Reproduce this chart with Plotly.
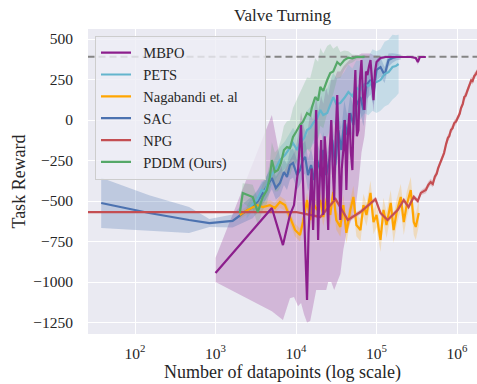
import plotly.graph_objects as go

# ---------------- data ----------------
mbpo_x = [1000, 5010, 6880, 8410, 9440, 10600, 11550, 12600, 13700, 14300,
          15000, 15600, 16300, 17000, 17800, 18300, 18800, 19600, 20500, 21100,
          21800, 22700, 23700, 24400, 25100, 26200, 27400, 28600, 29800, 31100,
          32500, 34000, 35500, 37000, 38700, 40400, 42200, 44000, 46000, 48000,
          50100, 52300, 54600, 57000, 59600, 62200, 65000, 67800, 70800, 73900,
          77100, 80500, 84100, 87800, 91700, 95800, 100000, 112000, 130000, 150000,
          200000, 266000, 307000, 326000, 345000, 410000]
mbpo_y = [-944, -543, -772, -586, -525, -309, -31, -555, -1111, -700,
          -494, -300, -679, -400, 62, -300, -740, -400, -123, -350,
          -586, -100, -247, -500, -679, -200, 0, -300, -494, -100,
          154, -200, -617, -300, -185, 0, -432, -100, 43, -200,
          -309, 100, 309, -100, -62, 250, 370, 150, 62, 300,
          278, 330, 370, 250, 123, 300, 358, 383, 389, 389,
          389, 389, 383, 358, 389, 389]

mbpo_band_x = [1000, 5010, 6880, 8410, 9440, 10600, 11550, 12600, 13700, 15000, 16300, 17800, 18800, 20500, 21800,
               23700, 25100, 27400, 29800, 32500, 35500, 38700, 42200, 46000, 50100, 54600, 59600, 65000, 70800,
               77100, 84100, 91700, 100000, 112000, 130000, 150000, 200000, 266000, 307000, 326000, 345000, 410000]
mbpo_lo = [-1000, -1180, -1234, -1100, -1092, -1150, -1130, -1200, -1250, -1240, -1150, -1050, -1050, -1050, -1050,
           -1050, -1000, -1000, -1050, -1000, -950, -800, -700, -650, -600, -550, -400, -200, -100,
           100, 250, 50, 300, 370, 385, 386, 387, 387, 375, 340, 386, 387]
mbpo_hi = [-850, 31, -330, -250, -200, -100, 50, -50, -100, 50, 0, 150, 50, 150, 100,
           200, 150, 250, 250, 300, 300, 330, 350, 370, 380, 400, 400, 410, 410,
           410, 410, 400, 400, 395, 393, 392, 391, 391, 390, 380, 391, 391]

pets_x = [2440, 2820, 3260, 3760, 4100, 4730, 5460, 6310, 7290, 8410,
          9170, 10300, 11200, 12600, 13700, 15000, 16300, 18300, 20000, 21800,
          24400, 26600, 29000, 31600, 35500, 39800, 44700, 50100, 56200, 63100,
          70800, 79400, 89100, 100000, 112000, 126000, 141000, 158000, 173000, 188000]
pets_y = [-568, -525, -494, -432, -444, -358, -309, -247, -216, -173,
          -142, -185, -142, -111, -62, -49, -19, 12, 62, 31,
          43, 93, 142, 99, 105, 136, 173, 148, 197, 185,
          222, 210, 247, 234, 247, 284, 296, 327, 333, 346]
pets_sd = [40, 45, 50, 55, 60, 65, 70, 80, 85, 90,
           95, 100, 110, 120, 120, 130, 130, 140, 140, 150,
           150, 150, 150, 160, 160, 160, 170, 170, 170, 180,
           180, 180, 190, 190, 190, 200, 200, 200, 190, 180]

nag_x = [2000, 2510, 3260, 3870, 4730, 5460, 6310, 7290, 8410, 9720,
         11200, 12200, 13700, 15000, 16300, 18300, 20000, 21800, 24400, 26600,
         29000, 31600, 35500, 38700, 42200, 47300, 51600, 56200, 63100, 68800,
         75000, 84100, 91700, 100000, 112000, 122000, 133000, 150000, 163000, 178000,
         200000, 218000, 237000, 266000, 290000, 307000, 335000]
nag_y = [-586, -555, -525, -537, -525, -543, -506, -525, -599, -679,
         -710, -630, -494, -617, -512, -555, -494, -599, -475, -586,
         -444, -617, -660, -525, -697, -555, -475, -648, -679, -525,
         -586, -450, -630, -586, -740, -555, -648, -512, -679, -568,
         -475, -630, -525, -432, -630, -660, -574]
nag_sd = [25, 25, 30, 30, 30, 30, 35, 35, 40, 40,
          40, 45, 45, 50, 50, 50, 55, 55, 55, 60,
          60, 60, 60, 65, 65, 65, 70, 70, 70, 70,
          70, 75, 75, 75, 75, 75, 80, 80, 80, 80,
          80, 80, 80, 80, 80, 80, 80]

sac_x = [38, 150, 470, 840, 1630, 2300, 2900, 3350, 3870, 4470,
         5010, 5620, 6310, 7080, 7720, 8410, 9170, 10300, 11200, 12200,
         13000, 14100, 15400, 16800, 18300, 20000, 21800, 23700, 25900, 28200,
         30700, 33500, 36500, 39800, 43400, 47300, 51600, 56200, 63100, 68800,
         75000, 84100, 91700, 100000, 112000, 126000, 141000, 158000, 178000, 200000]
sac_y = [-512, -574, -617, -636, -623, -568, -537, -500, -451, -401,
         -358, -420, -389, -321, -352, -278, -265, -340, -309, -247,
         -228, -340, -278, -370, -247, -309, -185, -340, -247, -123,
         -278, -62, -185, 0, -93, 43, -31, 93, 142, 62,
         216, 247, 173, 309, 327, 278, 370, 383, 389, 389]
sac_sd = [155, 110, 80, 25, 40, 60, 70, 70, 70, 70,
          70, 70, 80, 80, 80, 90, 90, 90, 90, 100,
          100, 100, 100, 100, 110, 110, 110, 110, 120, 120,
          120, 120, 120, 120, 120, 110, 110, 100, 100, 100,
          90, 90, 80, 70, 60, 50, 40, 30, 20, 15]

npg_x = [20, 10000, 15000, 20000, 31000, 44000, 63000, 97000, 112000, 137000,
         183000, 218000, 250000, 290000, 325000, 355000, 410000, 440000, 470000, 500000,
         530000, 560000, 580000, 610000, 630000, 660000, 690000, 730000, 770000, 800000,
         840000, 880000, 920000, 970000, 1030000, 1080000, 1120000, 1180000, 1230000, 1280000,
         1330000, 1400000, 1500000, 1560000, 1630000, 1720000, 1830000]
npg_y = [-568, -568, -586, -599, -488, -617, -568, -488, -574, -617,
         -556, -494, -537, -475, -500, -450, -432, -400, -383, -395,
         -350, -330, -300, -270, -247, -230, -204, -150, -110, -100,
         -62, -50, -20, -10, 20, 40, 74, 100, 142, 150,
         175, 200, 245, 240, 270, 285, 310]
npg_sd = [5, 5, 10, 10, 15, 15, 15, 15, 15, 15,
          15, 15, 15, 15, 15, 15, 20, 20, 20, 20,
          20, 20, 20, 20, 20, 20, 20, 20, 20, 20,
          20, 20, 20, 20, 20, 20, 20, 20, 20, 20,
          20, 20, 20, 20, 20, 20, 20]

pddm_x = [2000, 2180, 2510, 2900, 3350, 3870, 4340, 4730, 5010, 5460,
          5960, 6490, 7080, 7720, 8410, 9170, 10000, 11200, 12200, 13700,
          15000, 15800, 17300, 18800, 20000, 21800, 24400, 26600, 29000, 32500,
          35500, 39800, 44700, 50100, 56200, 63100, 70800]
pddm_y = [-574, -451, -463, -475, -568, -475, -432, -352, -247, -321,
          -309, -265, -185, -167, -173, -105, -74, -30, -10, 43,
          30, 80, 142, 120, 204, 180, 247, 290, 300, 358,
          340, 370, 385, 380, 389, 389, 390]
pddm_sd = [50, 60, 70, 75, 80, 80, 85, 90, 110, 120,
           130, 140, 150, 160, 170, 180, 190, 200, 210, 220,
           230, 230, 240, 240, 240, 230, 210, 180, 140, 100,
           80, 60, 40, 25, 15, 10, 8]

target_reward = 390

x_tickvals = [1e2, 1e3, 1e4, 1e5, 1e6]
x_ticktext = ["10<sup>2</sup>", "10<sup>3</sup>", "10<sup>4</sup>", "10<sup>5</sup>", "10<sup>6</sup>"]
y_tickvals = [500, 250, 0, -250, -500, -750, -1000, -1250]
y_ticktext = ["500", "250", "0", "\u2212250", "\u2212500", "\u2212750", "\u22121000", "\u22121250"]

# ---------------- figure ----------------
FONT = "Liberation Serif, Times New Roman, serif"
fig = go.Figure()

def band(y, sd, sign):
    return [a + sign * s for a, s in zip(y, sd)]

series = [
    ("MBPO", mbpo_x, mbpo_y, mbpo_band_x, mbpo_lo, mbpo_hi, "#8C1E8C", "rgba(140,30,140,0.25)", 1),
    ("PETS", pets_x, pets_y, pets_x, band(pets_y, pets_sd, -1), band(pets_y, pets_sd, 1),
     "#64B5CD", "rgba(100,181,205,0.28)", 2),
    ("Nagabandi et. al", nag_x, nag_y, nag_x, band(nag_y, nag_sd, -1), band(nag_y, nag_sd, 1),
     "#FFA500", "rgba(255,165,0,0.22)", 3),
    ("SAC", sac_x, sac_y, sac_x, band(sac_y, sac_sd, -1), band(sac_y, sac_sd, 1),
     "#4C72B0", "rgba(76,114,176,0.28)", 4),
    ("NPG", npg_x, npg_y, npg_x, band(npg_y, npg_sd, -1), band(npg_y, npg_sd, 1),
     "#C44E52", "rgba(196,78,82,0.25)", 5),
    ("PDDM (Ours)", pddm_x, pddm_y, pddm_x, band(pddm_y, pddm_sd, -1), band(pddm_y, pddm_sd, 1),
     "#55A868", "rgba(85,168,104,0.22)", 6),
]

for name, x, y, bx, lo, hi, col, fcol, rank in series:
    fig.add_trace(go.Scatter(
        x=list(bx) + list(bx)[::-1], y=list(hi) + list(lo)[::-1],
        fill="toself", fillcolor=fcol, line=dict(width=0), mode="lines",
        hoverinfo="skip", showlegend=False))

fig.add_trace(go.Scatter(x=[10, 1e7], y=[target_reward, target_reward], mode="lines",
                         line=dict(color="#858585", width=2, dash="7px,4px"), showlegend=False))

NB = "\u00a0"
draw_order = ["SAC", "PETS", "Nagabandi et. al", "NPG", "PDDM (Ours)", "MBPO"]
lookup = {s[0]: s for s in series}
for nm in draw_order:
    name, x, y, bx, lo, hi, col, fcol, rank = lookup[nm]
    label = NB * 2 + name + (NB * 6 if name.startswith("Nagabandi") else "")
    fig.add_trace(go.Scatter(x=x, y=y, mode="lines", name=label, legendrank=rank,
                             line=dict(color=col, width=2.2)))

fig.update_layout(
    width=477, height=384,
    margin=dict(l=88, r=0, t=29, b=50),
    paper_bgcolor="white", plot_bgcolor="#EAEAF2",
    font=dict(family=FONT, size=15, color="#262626"),
    title=dict(text="Valve Turning", x=0.5, xref="paper", y=1 - 15 / 384, yref="container",
               yanchor="middle", xanchor="center", font=dict(size=17)),
    showlegend=True,
    legend=dict(x=0.018, y=0.978, xanchor="left", yanchor="top",
                bgcolor="rgba(238,238,245,0.8)", bordercolor="#CDCDCD", borderwidth=1,
                font=dict(size=14.5), tracegroupgap=0, itemwidth=30),
)
fig.update_xaxes(type="log", range=[1.416, 6.248], tickvals=x_tickvals, ticktext=x_ticktext,
                 showgrid=True, gridcolor="white", gridwidth=1.3, zeroline=False, showline=False,
                 ticks="", tickfont=dict(size=15.5), ticklabelstandoff=8,
                 title=dict(text="Number of datapoints (log scale)", font=dict(size=18), standoff=4))
fig.update_yaxes(range=[-1321, 562], tickvals=y_tickvals, ticktext=y_ticktext,
                 showgrid=True, gridcolor="white", gridwidth=1.3, zeroline=False, showline=False,
                 ticks="", tickfont=dict(size=15.5), ticklabelstandoff=14,
                 title=dict(text="Task Reward", font=dict(size=18), standoff=2))

fig.write_html("out.html")
